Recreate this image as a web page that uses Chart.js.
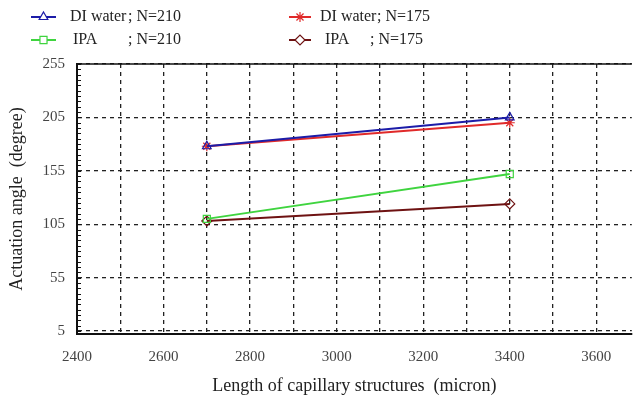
<!DOCTYPE html>
<html>
<head>
<meta charset="utf-8">
<script src="https://cdn.jsdelivr.net/npm/chart.js@4"></script>
<style>
  html, body { margin: 0; padding: 0; background: #fff; }
  #wrap { width: 638px; height: 402px; }
</style>
</head>
<body>
<div id="wrap"><canvas id="chart" width="638" height="402"></canvas></div>
<script>
// Data
const lengths = [2700, 3400];
const diWater210 = [178, 205];
const diWater175 = [178, 200];
const ipa210 = [110, 152];
const ipa175 = [108, 124];
const xTicks = [2400, 2500, 2600, 2700, 2800, 2900, 3000, 3100, 3200, 3300, 3400, 3500, 3600];
const yTicks = [5, 55, 105, 155, 205, 255];
const xMin = 2400;
const xMax = 3682;

const serif = '"Liberation Serif", "DejaVu Serif", serif';

function pts(values) {
    return lengths.map((x, i) => ({ x: x, y: values[i] }));
}

const seriesStyle = [
    { name: 'DI water', n: '; N=210', color: '#1c1ca8', point: 'triangle' },
    { name: 'IPA', n: '; N=210', color: '#3fd43f', point: 'rect' },
    { name: 'DI water', n: '; N=175', color: '#e02a2a', point: 'star' },
    { name: 'IPA', n: '; N=175', color: '#6e1212', point: 'rectRot' }
];
const seriesData = [diWater210, ipa210, diWater175, ipa175];

// Legend in two columns, drawn on the canvas
const legendPlugin = {
    id: 'twoColLegend',
    afterDraw(chart) {
        const ctx = chart.ctx;
        const spots = [
            { sx: 31, w: 25, y: 17, tx: 70, nx: 128 },
            { sx: 31, w: 25, y: 40, tx: 73, nx: 128 },
            { sx: 289, w: 22, y: 17, tx: 320, nx: 377 },
            { sx: 289, w: 22, y: 40, tx: 325, nx: 370 }
        ];
        ctx.save();
        seriesStyle.forEach((s, i) => {
            const p = spots[i];
            ctx.strokeStyle = s.color;
            ctx.lineWidth = 2;
            ctx.beginPath();
            ctx.moveTo(p.sx, p.y);
            ctx.lineTo(p.sx + p.w, p.y);
            ctx.stroke();
            ctx.lineWidth = 1.2;
            ctx.fillStyle = '#fff';
            Chart.helpers.drawPoint(ctx, { pointStyle: s.point, radius: 5, borderWidth: 1.2 }, p.sx + p.w / 2, p.y);
            ctx.fillStyle = '#222';
            ctx.font = '16px ' + serif;
            ctx.textBaseline = 'middle';
            ctx.fillText(s.name, p.tx, p.y);
            ctx.fillText(s.n, p.nx, p.y);
        });
        ctx.restore();
    }
};

// Solid top edge and little minor ticks on the left edge
const framePlugin = {
    id: 'frame',
    afterDatasetsDraw(chart) {
        const ctx = chart.ctx;
        const a = chart.chartArea;
        const y = chart.scales.y;
        ctx.save();
        ctx.strokeStyle = '#111';
        ctx.lineWidth = 1.5;
        ctx.beginPath();
        ctx.moveTo(a.left, a.top);
        ctx.lineTo(a.right, a.top);
        ctx.stroke();
        ctx.lineWidth = 1;
        ctx.beginPath();
        for (let v = 5; v <= 255; v += 5) {
            const py = Math.round(y.getPixelForValue(v)) + 0.5;
            ctx.moveTo(a.left, py);
            ctx.lineTo(a.left + 4, py);
        }
        ctx.stroke();
        ctx.restore();
    }
};

new Chart(document.getElementById('chart'), {
    type: 'line',
    data: {
        datasets: seriesStyle.map((s, i) => ({
            label: s.name + ' ' + s.n,
            data: pts(seriesData[i]),
            borderColor: s.color,
            backgroundColor: 'rgba(255,255,255,0)',
            pointStyle: s.point,
            pointRadius: 5,
            pointBorderWidth: 1.2,
            borderWidth: 2,
            tension: 0
        }))
    },
    options: {
        responsive: false,
        animation: false,
        layout: { padding: { top: 64, right: 0, left: 0, bottom: 0 } },
        plugins: {
            legend: { display: false },
            tooltip: { enabled: false }
        },
        scales: {
            x: {
                type: 'linear',
                min: xMin,
                max: xMax,
                afterBuildTicks: (scale) => { scale.ticks = xTicks.map(v => ({ value: v })); },
                afterFit: (scale) => {
                    scale.height = 68;
                    scale.paddingRight = 0;
                    scale.paddingLeft = 0;
                },
                ticks: {
                    autoSkip: false,
                    maxRotation: 0,
                    padding: 0,
                    color: '#444',
                    font: { family: serif, size: 15 },
                    callback: (v) => (v % 200 === 0 ? String(v) : '')
                },
                grid: {
                    color: '#222',
                    lineWidth: 1.3,
                    drawTicks: true,
                    tickLength: 14,
                    tickColor: 'rgba(0,0,0,0)'
                },
                border: { display: true, color: '#111', width: 2, dash: [4, 4] },
                title: {
                    display: true,
                    text: 'Length of capillary structures  (micron)',
                    color: '#222',
                    font: { family: serif, size: 18 },
                    padding: { top: 2, bottom: 5 }
                }
            },
            y: {
                min: 2.2,
                max: 255,
                afterBuildTicks: (scale) => { scale.ticks = yTicks.map(v => ({ value: v })); },
                afterFit: (scale) => { scale.width = 77; },
                ticks: {
                    padding: 12,
                    color: '#444',
                    font: { family: serif, size: 15 }
                },
                grid: { color: '#222', lineWidth: 1.3, drawTicks: false },
                border: { display: true, color: '#111', width: 2, dash: [4, 4] },
                title: {
                    display: true,
                    text: 'Actuation angle  (degree)',
                    color: '#222',
                    font: { family: serif, size: 18 },
                    padding: { top: 6, bottom: 4 }
                }
            }
        }
    },
    plugins: [legendPlugin, framePlugin]
});
</script>
</body>
</html>
